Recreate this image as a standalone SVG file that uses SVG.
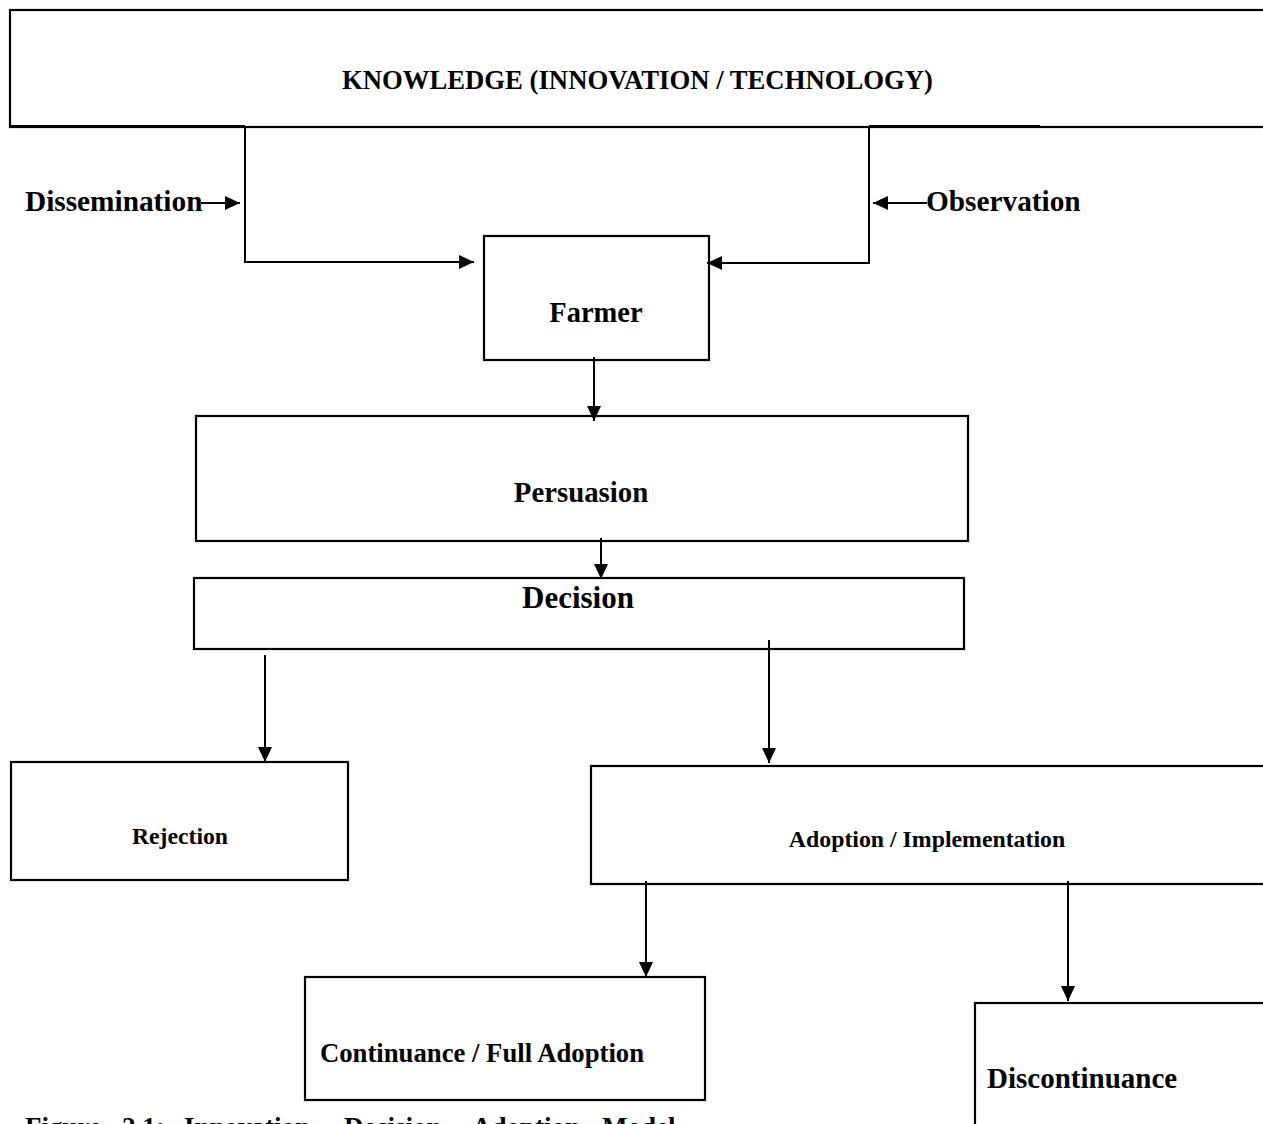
<svg xmlns="http://www.w3.org/2000/svg" width="1263" height="1124" viewBox="0 0 1263 1124">
  <style>
    .box { fill: #ffffff; stroke: #000000; stroke-width: 2.2; }
    .edge { fill: none; stroke: #000000; stroke-width: 2; }
    .lbl { font-family: "Liberation Serif", "Times New Roman", serif; font-weight: bold; fill: #000000; }
  </style>
  <defs>
    <marker id="ah" viewBox="0 0 15 14" refX="15" refY="7" markerWidth="15" markerHeight="14" markerUnits="userSpaceOnUse" orient="auto">
      <path d="M0,0 L15,7 L0,14 z" fill="#000000"/>
    </marker>
  </defs>
  <rect width="1263" height="1124" fill="#ffffff"/>

  <g id="node-knowledge">
    <rect class="box" x="10" y="10" width="1270" height="117"/>
    <line x1="10" y1="126" x2="245" y2="126" stroke="#000" stroke-width="2"/>
    <line x1="869" y1="126" x2="1040" y2="126" stroke="#000" stroke-width="2"/>
    <text class="lbl" x="342" y="89" font-size="26.7">KNOWLEDGE (INNOVATION / TECHNOLOGY)</text>
  </g>

  <g id="node-dissemination">
    <text class="lbl" x="25" y="211" font-size="29.3">Dissemination</text>
  </g>

  <g id="node-observation">
    <text class="lbl" x="926" y="211" font-size="29.3">Observation</text>
  </g>

  <g id="node-farmer">
    <rect class="box" x="484" y="236" width="225" height="124"/>
    <text class="lbl" x="596" y="322" font-size="28.5" text-anchor="middle">Farmer</text>
  </g>

  <g id="node-persuasion">
    <rect class="box" x="196" y="416" width="772" height="125"/>
    <text class="lbl" x="581" y="502" font-size="28.8" text-anchor="middle">Persuasion</text>
  </g>

  <g id="node-decision">
    <rect class="box" x="194" y="578" width="770" height="71"/>
    <text class="lbl" x="578" y="608" font-size="31" text-anchor="middle">Decision</text>
  </g>

  <g id="node-rejection">
    <rect class="box" x="11" y="762" width="337" height="118"/>
    <text class="lbl" x="180" y="844" font-size="23.7" text-anchor="middle">Rejection</text>
  </g>

  <g id="node-adoption">
    <rect class="box" x="591" y="766" width="690" height="118"/>
    <text class="lbl" x="927" y="847" font-size="23.8" text-anchor="middle">Adoption / Implementation</text>
  </g>

  <g id="node-continuance">
    <rect class="box" x="305" y="977" width="400" height="123"/>
    <text class="lbl" x="320" y="1062" font-size="26.7">Continuance / Full Adoption</text>
  </g>

  <g id="node-discontinuance">
    <rect class="box" x="975" y="1003" width="300" height="140"/>
    <text class="lbl" x="987" y="1088" font-size="29">Discontinuance</text>
  </g>

  <g id="caption">
    <text class="lbl" y="1136" font-size="27"><tspan x="25">Figure</tspan><tspan x="122">2.1:</tspan><tspan x="184">Innovation</tspan><tspan x="344">Decision</tspan><tspan x="472">Adoption</tspan><tspan x="602">Model</tspan></text>
  </g>

  <g id="connectors">
    <line class="edge" x1="201" y1="203" x2="240" y2="203" marker-end="url(#ah)"/>
    <line class="edge" x1="927" y1="203" x2="873" y2="203" marker-end="url(#ah)"/>
    <polyline class="edge" points="245,127 245,262 474,262" marker-end="url(#ah)"/>
    <polyline class="edge" points="869,127 869,263 707,263" marker-end="url(#ah)"/>
    <line class="edge" x1="594" y1="357" x2="594" y2="421" marker-end="url(#ah)"/>
    <line class="edge" x1="601" y1="538" x2="601" y2="579" marker-end="url(#ah)"/>
    <line class="edge" x1="265" y1="655" x2="265" y2="762" marker-end="url(#ah)"/>
    <line class="edge" x1="769" y1="640" x2="769" y2="763" marker-end="url(#ah)"/>
    <line class="edge" x1="646" y1="881" x2="646" y2="977" marker-end="url(#ah)"/>
    <line class="edge" x1="1068" y1="881" x2="1068" y2="1001" marker-end="url(#ah)"/>
  </g>
</svg>
